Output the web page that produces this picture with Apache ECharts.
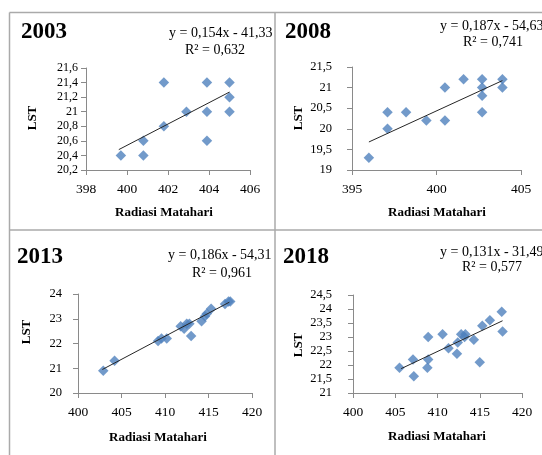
<!DOCTYPE html>
<html>
<head>
<meta charset="utf-8">
<script src="https://cdn.jsdelivr.net/npm/echarts@6/dist/echarts.min.js"></script>
<style>html,body{margin:0;padding:0;background:#fff;}#c{width:542px;height:455px;}</style>
</head>
<body>
<div id="c"></div>
<script>
// ---- data ----
const years = ['2003', '2008', '2013', '2018'];
const eqTexts = ['y = 0,154x - 41,33', 'y = 0,187x - 54,63', 'y = 0,186x - 54,31', 'y = 0,131x - 31,49'];
const r2Texts = ['R\u00b2 = 0,632', 'R\u00b2 = 0,741', 'R\u00b2 = 0,961', 'R\u00b2 = 0,577'];
const xTitle = 'Radiasi Matahari';
const yTitle = 'LST';

const xMin = [398, 395, 400, 400];
const xMax = [406, 405, 420, 420];
const xStep = [2, 5, 5, 5];
const yMin = [20.2, 19, 20, 21];
const yMax = [21.6, 21.5, 24, 24.5];
const yStep = [0.2, 0.5, 1, 0.5];

const pts2003 = [[399.7,20.4],[400.8,20.6],[400.8,20.4],[401.8,21.4],[401.8,20.8],[402.9,21.0],[403.9,21.4],[403.9,21.0],[403.9,20.6],[405.0,21.4],[405.0,21.2],[405.0,21.0]];
const trend2003 = [[399.6,20.48],[405.0,21.27]];

const pts2008 = [[396.0,19.3],[397.1,20.4],[397.1,20.0],[398.2,20.4],[399.4,20.2],[400.5,21.0],[400.5,20.2],[401.6,21.2],[402.7,21.2],[402.7,21.0],[402.7,20.8],[402.7,20.4],[403.9,21.2],[403.9,21.0]];
const trend2008 = [[396.0,19.68],[403.9,21.17]];

const pts2013 = [[402.9,20.9],[404.2,21.3],[409.2,22.1],[409.6,22.2],[410.2,22.2],[411.8,22.7],[412.2,22.6],[412.5,22.8],[412.8,22.8],[413.0,22.3],[414.2,22.9],[414.6,23.1],[414.8,23.2],[415.3,23.4],[416.9,23.6],[417.3,23.7],[417.5,23.7]];
const trend2013 = [[402.8,20.95],[417.4,23.67]];

const pts2018 = [[405.5,21.9],[407.1,22.2],[407.2,21.6],[408.9,23.0],[408.9,22.2],[408.8,21.9],[410.6,23.1],[411.3,22.6],[412.3,22.4],[412.4,22.8],[412.8,23.1],[413.2,23.0],[413.3,23.1],[414.3,22.9],[415.0,22.1],[415.3,23.4],[416.2,23.6],[417.6,23.9],[417.7,23.2]];
const trend2018 = [[405.7,21.87],[417.7,23.58]];

const points = [pts2003, pts2008, pts2013, pts2018];
const trends = [trend2003, trend2008, trend2013, trend2018];

// ---- layout ----
const grids = [
  {left: 86, top: 68, width: 164, height: 102},
  {left: 352, top: 67, width: 169, height: 103},
  {left: 78, top: 294, width: 174, height: 99},
  {left: 353, top: 295, width: 169, height: 98}
];
const yLabelMargin = [8, 20, 16, 21];
const titlePos = [[21, 32], [285, 32], [17, 257], [283, 257]];
const eqPos = [[169, 33], [440, 26], [168, 255], [440, 252]];
const r2Pos = [[215, 50], [493, 42], [222, 273], [492, 267]];
const xNamePos = [[164, 213], [437, 213], [158, 438], [437, 437]];
const yNamePos = [[33, 118], [299, 118], [27, 332], [299, 345]];

const SERIF = '"Liberation Serif", "Times New Roman", serif';
const fmt = v => (Math.round(v * 100) / 100).toString().replace('.', ',');
const axisGray = '#8a8a8a';

const option = {
  backgroundColor: '#fff',
  animation: false,
  grid: grids.map(g => Object.assign({containLabel: false}, g)),
  xAxis: grids.map((g, i) => ({
    type: 'value', gridIndex: i, min: xMin[i], max: xMax[i], interval: xStep[i], z: 10,
    axisLine: {show: true, lineStyle: {color: axisGray, width: 1}},
    axisTick: {show: true, inside: false, length: 5, lineStyle: {color: axisGray}},
    splitLine: {show: false},
    axisLabel: {fontFamily: SERIF, fontSize: 13.5, color: '#000', margin: 12, formatter: fmt}
  })),
  yAxis: grids.map((g, i) => ({
    type: 'value', gridIndex: i, min: yMin[i], max: yMax[i], interval: yStep[i], z: 10,
    axisLine: {show: true, lineStyle: {color: axisGray, width: 1}},
    axisTick: {show: true, inside: false, length: 5, lineStyle: {color: axisGray}},
    splitLine: {show: false},
    axisLabel: {fontFamily: SERIF, fontSize: i === 0 ? 12 : 12.5, color: '#000', margin: yLabelMargin[i], formatter: fmt}
  })),
  series: [],
  graphic: {elements: []}
};

points.forEach((p, i) => {
  option.series.push({
    type: 'scatter', xAxisIndex: i, yAxisIndex: i, data: p, z: 11,
    symbol: 'diamond', symbolSize: 10.5,
    itemStyle: {color: '#4F81BD'}
  });
  option.series.push({
    type: 'line', xAxisIndex: i, yAxisIndex: i, data: trends[i], z: 12,
    symbol: 'none', lineStyle: {color: '#262626', width: 1}
  });
});

const els = option.graphic.elements;
const eqFont = '14px ' + SERIF;
// left panels' equation text (gets clipped by right panel backgrounds)
[0, 2].forEach(i => {
  els.push({type: 'text', x: eqPos[i][0], y: eqPos[i][1], z: 1,
    style: {text: eqTexts[i], font: eqFont, fill: '#000', verticalAlign: 'middle', align: 'left'}});
});
// right panel backgrounds
els.push({type: 'rect', z: 2, shape: {x: 275.5, y: 13, width: 270, height: 216.5}, style: {fill: '#fff'}});
els.push({type: 'rect', z: 2, shape: {x: 275.5, y: 230.5, width: 270, height: 230}, style: {fill: '#fff'}});
// panel borders
const borderStyle = {stroke: '#aaaaaa', lineWidth: 1.5};
els.push({type: 'line', z: 3, shape: {x1: 9.5, y1: 12.5, x2: 545, y2: 12.5}, style: borderStyle});
els.push({type: 'line', z: 3, shape: {x1: 9.5, y1: 12.5, x2: 9.5, y2: 460}, style: borderStyle});
els.push({type: 'line', z: 3, shape: {x1: 275, y1: 12.5, x2: 275, y2: 460}, style: borderStyle});
els.push({type: 'line', z: 3, shape: {x1: 9.5, y1: 230, x2: 545, y2: 230}, style: borderStyle});

[1, 3].forEach(i => {
  els.push({type: 'text', x: eqPos[i][0], y: eqPos[i][1], z: 4,
    style: {text: eqTexts[i], font: eqFont, fill: '#000', verticalAlign: 'middle', align: 'left'}});
});
years.forEach((yr, i) => {
  els.push({type: 'text', x: titlePos[i][0], y: titlePos[i][1], z: 4,
    style: {text: yr, font: 'bold 23px ' + SERIF, fill: '#000', verticalAlign: 'middle', align: 'left'}});
  els.push({type: 'text', x: r2Pos[i][0], y: r2Pos[i][1], z: 4,
    style: {text: r2Texts[i], font: '14px ' + SERIF, fill: '#000', verticalAlign: 'middle', align: 'center'}});
  els.push({type: 'text', x: xNamePos[i][0], y: xNamePos[i][1], z: 4,
    style: {text: xTitle, font: 'bold 13px ' + SERIF, fill: '#000', verticalAlign: 'middle', align: 'center'}});
  els.push({type: 'text', x: yNamePos[i][0], y: yNamePos[i][1], z: 4, rotation: Math.PI / 2,
    style: {text: yTitle, font: 'bold 13px ' + SERIF, fill: '#000', verticalAlign: 'middle', align: 'center'}});
});

const chart = echarts.init(document.getElementById('c'), null, {renderer: 'canvas'});
chart.setOption(option);
</script>
</body>
</html>
